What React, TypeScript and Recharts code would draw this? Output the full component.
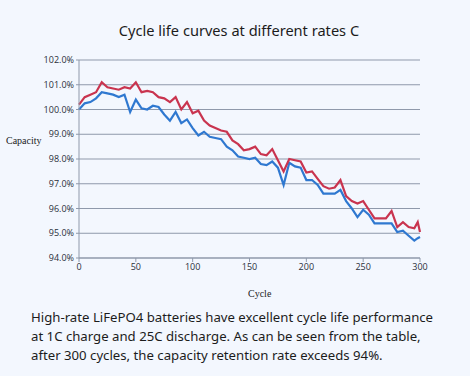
import React from 'react';
import { LineChart, Line, XAxis, YAxis, CartesianGrid } from 'recharts';

const cycles = [0,5,10,15,20,25,30,35,40,45,50,55,60,65,70,75,80,85,90,95,100,105,110,115,120,125,130,135,140,145,150,155,160,165,170,175,180,185,190,195,200,205,210,215,220,225,230,235,240,245,250,255,260,265,270,275,280,285,290,295,298,300];

const redSeries = [100.2,100.5,100.6,100.7,101.1,100.9,100.85,100.8,100.9,100.85,101.1,100.7,100.75,100.7,100.5,100.45,100.3,100.5,100.0,100.3,99.85,99.95,99.55,99.35,99.25,99.15,99.1,98.75,98.6,98.35,98.4,98.5,98.2,98.15,98.4,97.95,97.5,98.0,97.95,97.9,97.45,97.5,97.2,96.9,96.8,96.85,97.15,96.5,96.3,96.2,96.3,95.95,95.6,95.6,95.6,95.9,95.25,95.45,95.25,95.2,95.45,95.05];

const blueSeries = [100.0,100.25,100.3,100.45,100.7,100.65,100.6,100.5,100.6,99.9,100.4,100.05,100.0,100.15,100.1,99.8,99.55,99.9,99.45,99.6,99.25,98.95,99.1,98.9,98.85,98.8,98.5,98.35,98.1,98.05,98.0,98.05,97.8,97.75,97.9,97.65,96.95,97.85,97.7,97.65,97.15,97.15,96.95,96.6,96.6,96.6,96.75,96.3,96.0,95.65,95.95,95.75,95.4,95.4,95.4,95.4,95.05,95.1,94.9,94.7,94.8,94.85];

const yTicks = [94, 95, 96, 97, 98, 99, 100, 101, 102];
const xTicks = [0, 50, 100, 150, 200, 250, 300];

const titleText = 'Cycle life curves at different rates C';
const paragraphLines = [
  'High-rate LiFePO4 batteries have excellent cycle life performance',
  'at 1C charge and 25C discharge. As can be seen from the table,',
  'after 300 cycles, the capacity retention rate exceeds 94%.',
];

const data = cycles.map((c, i) => ({ cycle: c, red: redSeries[i], blue: blueSeries[i] }));

const axisColor = '#8f99ab';
const tickStyle = { fontSize: 9, fill: '#2a2f3a', fontFamily: '"Open Sans", "Noto Sans", sans-serif' };

export default function App() {
  return (
    <div style={{ position: 'absolute', left: 0, top: 0, width: 470, height: 376, background: '#f3f7fe', overflow: 'hidden' }}>
      <div style={{ position: 'absolute', left: 0, top: 20, width: 478, textAlign: 'center', fontFamily: '"Noto Sans", sans-serif', fontSize: 14.6, color: '#1c1c1c' }}>
        {titleText}
      </div>
      <LineChart width={470} height={376} data={data} margin={{ top: 60, right: 50, bottom: 88, left: 29 }}>
        <CartesianGrid horizontal={true} vertical={false} stroke={axisColor} strokeWidth={1} />
        <XAxis
          dataKey="cycle"
          type="number"
          domain={[0, 300]}
          ticks={xTicks}
          height={30}
          axisLine={{ stroke: axisColor }}
          tickLine={{ stroke: axisColor }}
          tickSize={4}
          tick={tickStyle}
          interval={0}
        />
        <YAxis
          domain={[94, 102]}
          ticks={yTicks}
          width={50}
          axisLine={{ stroke: axisColor }}
          tickLine={{ stroke: axisColor }}
          tickSize={3}
          tick={tickStyle}
          tickFormatter={(v: number) => v.toFixed(1) + '%'}
          interval={0}
        />
        <Line type="linear" dataKey="blue" stroke="#2f78d0" strokeWidth={2.2} dot={false} isAnimationActive={false} />
        <Line type="linear" dataKey="red" stroke="#c9344f" strokeWidth={2.2} dot={false} isAnimationActive={false} />
      </LineChart>
      <div style={{ position: 'absolute', left: 6, top: 135, fontFamily: '"Liberation Serif", serif', fontSize: 10, color: '#222' }}>Capacity</div>
      <div style={{ position: 'absolute', left: 248, top: 288, fontFamily: '"Liberation Serif", serif', fontSize: 10, color: '#222' }}>Cycle</div>
      <div style={{ position: 'absolute', left: 31, top: 308, fontFamily: '"Noto Sans", sans-serif', fontSize: 13.2, lineHeight: '19px', color: '#1c1c1c' }}>
        {paragraphLines.map((l, i) => (<div key={i}>{l}</div>))}
      </div>
    </div>
  );
}
